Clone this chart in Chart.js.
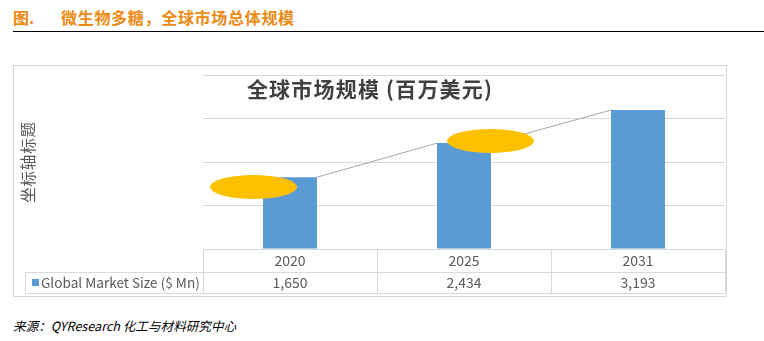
<!DOCTYPE html>
<html>
<head>
<meta charset="utf-8">
<script src="https://cdn.jsdelivr.net/npm/chart.js@4/dist/chart.umd.min.js"></script>
<style>
html,body{margin:0;padding:0;background:#fff;width:764px;height:341px;overflow:hidden;font-family:"Noto Sans CJK SC","Noto Sans",sans-serif;}
#hdr{position:absolute;left:13px;top:6px;height:22px;line-height:22px;font-size:16px;font-weight:bold;color:#EE8A12;white-space:nowrap;}
#hdr .t{position:absolute;left:48px;top:0;letter-spacing:0.7px;}
#rule{position:absolute;left:13px;top:31px;width:751px;height:1px;background:#000;}
#box{position:absolute;left:13px;top:65px;width:714px;height:232px;border:1px solid #d6d6d6;box-sizing:border-box;}
#box canvas{position:absolute;left:-1px;top:-1px;}
.ell{position:absolute;width:87px;height:24px;border-radius:50%;background:#FFC000;}
#src{position:absolute;left:13px;top:316px;font-size:12.6px;font-style:italic;color:#000;white-space:nowrap;}
</style>
</head>
<body>
<div id="hdr"><span>图.</span><span class="t">微生物多糖，全球市场总体规模</span></div>
<div id="rule"></div>
<div id="box"><canvas id="c" width="714" height="232"></canvas></div>
<div class="ell" style="left:210px;top:175px;"></div>
<div class="ell" style="left:447px;top:129px;"></div>
<div id="src">来源：QYResearch 化工与材料研究中心</div>
<script>
const categories = ["2020", "2025", "2031"];
const seriesName = "Global Market Size ($ Mn)";
const marketSize = [1650, 2434, 3193];
const chartTitle = "全球市场规模 (百万美元)";
const yAxisTitle = "坐标轴标题";

const BLUE = "#5B9BD5";
const GRID = "#d9d9d9";
const TXT = "#595959";
const FONT = '"Noto Sans CJK SC","Noto Sans",sans-serif';

const fmt = v => v.toLocaleString("en-US");

const decor = {
  id: "decor",
  afterDatasetsDraw(chart) {
    const ctx = chart.ctx;
    const meta = chart.getDatasetMeta(0);
    ctx.save();
    ctx.strokeStyle = "#a6a6a6";
    ctx.lineWidth = 1;
    for (let i = 0; i < meta.data.length - 1; i++) {
      const a = meta.data[i], b = meta.data[i + 1];
      ctx.beginPath();
      ctx.moveTo(a.x + a.width / 2, a.y);
      ctx.lineTo(b.x - b.width / 2, b.y);
      ctx.stroke();
    }
    ctx.restore();
  },
  afterDraw(chart) {
    const ctx = chart.ctx;
    const ca = chart.chartArea;
    const xs = chart.scales.x;
    const n = categories.length;
    const cw = (ca.right - ca.left) / n;
    const row1 = ca.bottom, row2 = ca.bottom + 23, row3 = ca.bottom + 44;
    const tableLeft = 12;
    ctx.save();
    // title
    ctx.fillStyle = "#404040";
    ctx.font = "bold 21px " + FONT;
    ctx.letterSpacing = "1.2px";
    ctx.textAlign = "center";
    ctx.textBaseline = "middle";
    ctx.fillText(chartTitle, chart.width / 2, 24);
    // y axis title
    ctx.save();
    ctx.translate(15, 97);
    ctx.rotate(-Math.PI / 2);
    ctx.fillStyle = TXT;
    ctx.font = "15.5px " + FONT;
    ctx.letterSpacing = "0.8px";
    ctx.fillText(yAxisTitle, 0, 0);
    ctx.restore();
    ctx.letterSpacing = "0px";
    // data table lines
    ctx.strokeStyle = GRID;
    ctx.lineWidth = 1;
    const h = y => Math.round(y) + 0.5;
    ctx.beginPath();
    ctx.moveTo(ca.left, h(row1)); ctx.lineTo(ca.right, h(row1));
    ctx.moveTo(tableLeft, h(row2)); ctx.lineTo(ca.right, h(row2));
    ctx.moveTo(tableLeft, h(row3)); ctx.lineTo(ca.right, h(row3));
    ctx.moveTo(h(tableLeft), h(row2)); ctx.lineTo(h(tableLeft), h(row3));
    for (let i = 0; i <= n; i++) {
      const x = h(ca.left + i * cw);
      ctx.moveTo(x, h(row1)); ctx.lineTo(x, h(row3));
    }
    ctx.stroke();
    // table text
    ctx.fillStyle = TXT;
    ctx.font = "14px " + FONT;
    ctx.textAlign = "center";
    categories.forEach((c, i) => {
      const x = xs.getPixelForValue(i);
      ctx.fillText(c, x, (row1 + row2) / 2 + 0.5);
      ctx.fillText(fmt(marketSize[i]), x, (row2 + row3) / 2 + 0.5);
    });
    // legend key
    ctx.fillStyle = BLUE;
    ctx.fillRect(tableLeft + 7, (row2 + row3) / 2 - 3.5, 7, 7);
    ctx.fillStyle = TXT;
    ctx.font = "13.6px " + FONT;
    ctx.textAlign = "left";
    ctx.fillText(seriesName, tableLeft + 16, (row2 + row3) / 2 + 0.5);
    ctx.restore();
  }
};

new Chart(document.getElementById("c"), {
  type: "bar",
  data: {
    labels: categories,
    datasets: [{
      label: seriesName,
      data: marketSize,
      backgroundColor: BLUE,
      borderWidth: 0,
      barPercentage: 0.31,
      categoryPercentage: 1
    }]
  },
  options: {
    responsive: false,
    animation: false,
    events: [],
    layout: { padding: { left: 190, right: 2, top: 10, bottom: 48 } },
    plugins: { legend: { display: false }, title: { display: false }, tooltip: { enabled: false } },
    scales: {
      x: { display: false },
      y: {
        min: 0, max: 4000,
        ticks: { display: false, stepSize: 1000 },
        border: { display: false },
        grid: { color: GRID, drawTicks: false, lineWidth: 1 }
      }
    }
  },
  plugins: [decor]
});
</script>
</body>
</html>
